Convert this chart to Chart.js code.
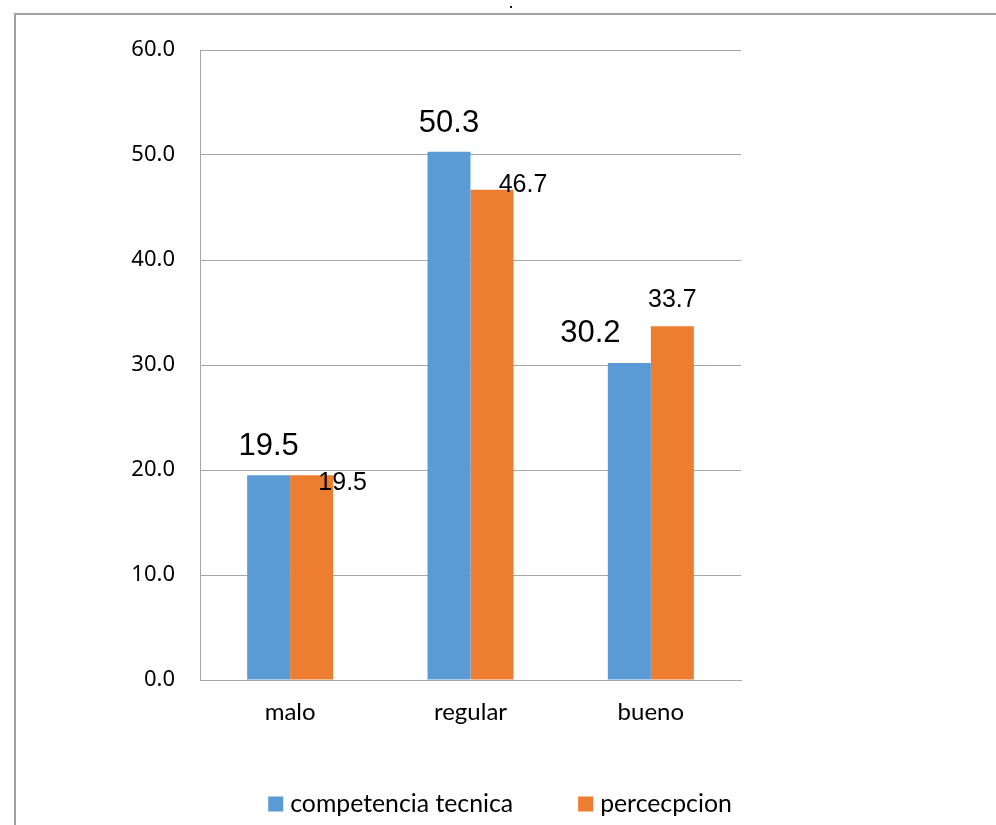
<!DOCTYPE html>
<html>
<head>
<meta charset="utf-8">
<script src="https://cdn.jsdelivr.net/npm/chart.js@4.4.1/dist/chart.umd.min.js"></script>
<style>
  html, body { margin: 0; padding: 0; background: #fff; }
  #wrap { position: relative; width: 996px; height: 825px; }
</style>
</head>
<body>
<div id="wrap"><canvas id="c" width="996" height="825"></canvas></div>
<script>
// Categories and series
const categories = ['malo', 'regular', 'bueno'];
const competenciaTecnica = [19.5, 50.3, 30.2];
const percepcion = [19.5, 46.7, 33.7];
const seriesNames = ['competencia tecnica', 'percecpcion'];
const yTicks = [0, 10, 20, 30, 40, 50, 60];
const titleText = '.';

const BLUE = '#5B9BD5';
const ORANGE = '#ED7D31';
const GRID = '#a6a6a6';

// Value labels: per-series font size and per-bar nudges (px)
const labelStyle = [
  { size: 31, offsets: [[0, -29], [0, -28], [-39, -29]] },
  { size: 25, offsets: [[31, 8], [31, -5], [0, -26]] }
];

const valueLabels = {
  id: 'valueLabels',
  afterDatasetsDraw(chart) {
    const ctx = chart.ctx;
    ctx.save();
    ctx.fillStyle = '#000';
    ctx.textAlign = 'center';
    ctx.textBaseline = 'middle';
    chart.data.datasets.forEach((ds, di) => {
      const meta = chart.getDatasetMeta(di);
      const st = labelStyle[di];
      ctx.font = st.size + 'px "Liberation Sans", Arial, sans-serif';
      meta.data.forEach((bar, i) => {
        const [dx, dy] = st.offsets[i];
        ctx.fillText(ds.data[i].toFixed(1), bar.x + dx, bar.y + dy);
      });
    });
    ctx.restore();
  }
};

// Outer frame lines, the small title mark and the bottom legend row
const frameAndLegend = {
  id: 'frameAndLegend',
  beforeDraw(chart) {
    const ctx = chart.ctx;
    ctx.save();
    ctx.strokeStyle = '#a0a0a0';
    ctx.lineWidth = 2;
    ctx.beginPath();
    ctx.moveTo(996, 14);
    ctx.lineTo(15, 14);
    ctx.lineTo(15, 825);
    ctx.stroke();
    ctx.fillStyle = '#000';
    ctx.font = 'bold 13px "Liberation Sans", Arial, sans-serif';
    ctx.textAlign = 'center';
    ctx.textBaseline = 'alphabetic';
    ctx.fillText(titleText, 511, 8);
    ctx.restore();
  },
  afterDraw(chart) {
    const ctx = chart.ctx;
    ctx.save();
    ctx.font = '24.8px Lato, sans-serif';
    ctx.textBaseline = 'middle';
    ctx.textAlign = 'left';
    const box = 15, gapText = 7, gapItem = 65;
    const items = chart.data.datasets.map(ds => ({
      label: ds.label, color: ds.backgroundColor, w: ctx.measureText(ds.label).width
    }));
    let total = 0;
    items.forEach((it, i) => { total += box + gapText + it.w + (i ? gapItem : 0); });
    let x = 500 - total / 2;
    const yc = 804;
    items.forEach((it, i) => {
      if (i) x += gapItem;
      ctx.fillStyle = it.color;
      ctx.fillRect(x, yc - box / 2, box, box);
      ctx.fillStyle = '#000';
      ctx.fillText(it.label, x + box + gapText, yc);
      x += box + gapText + it.w;
    });
    ctx.restore();
  }
};

new Chart(document.getElementById('c'), {
  type: 'bar',
  data: {
    labels: categories,
    datasets: [
      { label: seriesNames[0], data: competenciaTecnica, backgroundColor: BLUE, borderWidth: 0 },
      { label: seriesNames[1], data: percepcion, backgroundColor: ORANGE, borderWidth: 0 }
    ]
  },
  options: {
    responsive: false,
    animation: false,
    layout: { padding: { left: 0, right: 255, top: 50, bottom: 0 } },
    datasets: { bar: { categoryPercentage: 0.477, barPercentage: 1 } },
    plugins: {
      legend: { display: false },
      tooltip: { enabled: false },
      title: { display: false }
    },
    scales: {
      x: {
        grid: { display: false, drawTicks: false },
        border: { display: true, color: GRID, width: 1 },
        ticks: { color: '#000', padding: 18, font: { size: 24, family: 'Lato, sans-serif' } },
        afterFit(scale) { scale.height = 145; }
      },
      y: {
        min: yTicks[0],
        max: yTicks[yTicks.length - 1],
        afterBuildTicks(scale) { scale.ticks = yTicks.map(v => ({ value: v })); },
        grid: { color: GRID, drawTicks: false, lineWidth: 1 },
        border: { display: true, color: GRID, width: 1 },
        ticks: {
          color: '#000',
          padding: 25,
          font: { size: 22, family: '"Noto Sans", sans-serif' },
          callback: v => Number(v).toFixed(1)
        },
        afterFit(scale) { scale.width = 200; }
      }
    }
  },
  plugins: [valueLabels, frameAndLegend]
});
</script>
</body>
</html>
